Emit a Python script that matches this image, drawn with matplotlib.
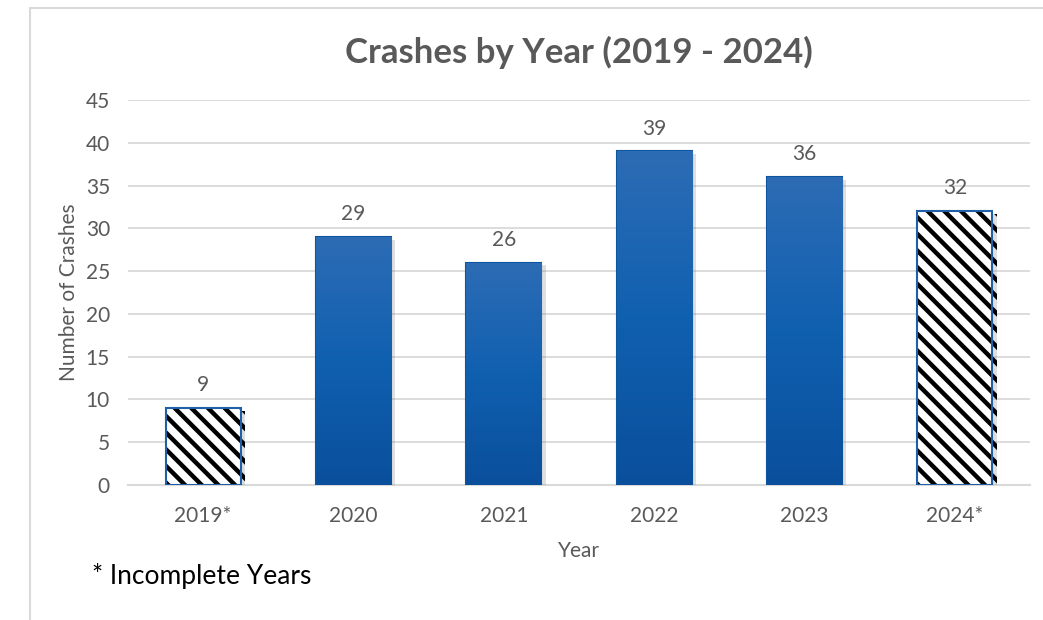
import numpy as np
import matplotlib
matplotlib.use("Agg")
import matplotlib.pyplot as plt
from matplotlib.colors import LinearSegmentedColormap
import matplotlib.patheffects as pe

years = ["2019*", "2020", "2021", "2022", "2023", "2024*"]
crashes = [9, 29, 26, 39, 36, 32]
incomplete = [True, False, False, False, False, True]

plt.rcParams['font.family'] = ['Lato', 'DejaVu Sans']
plt.rcParams['hatch.linewidth'] = 3.2

fig = plt.figure(figsize=(10.43, 6.2), dpi=100)
ax = fig.add_axes([0.1227, 0.2177, 0.8648, 0.621])

# outer border (light gray)
fig.patches.append(plt.Rectangle((30/1043, -0.01), 1.05, 1 - 8/620 + 0.01,
                                 transform=fig.transFigure, fill=False,
                                 edgecolor='#d9d9d9', linewidth=1.5))

x = np.arange(len(years))
shadow = [pe.SimplePatchShadow(offset=(3, -2), alpha=0.25, shadow_rgbFace='gray'), pe.Normal()]
bars = ax.bar(x, crashes, width=0.5, zorder=3)
cmap = LinearSegmentedColormap.from_list('g', ['#0a4f9c', '#1060b0', '#2d6cb5'])
grad = np.linspace(0, 1, 256).reshape(-1, 1)
for b, inc in zip(bars, incomplete):
    b.set_path_effects(shadow)
    x0, y0 = b.get_x(), b.get_y()
    w, h = b.get_width(), b.get_height()
    if inc:
        b.set_facecolor('white')
        b.set_hatch('\\\\')
        b.set_edgecolor('black')
        b.set_linewidth(0)
        ax.add_patch(plt.Rectangle((x0, y0), w, h, fill=False,
                                   edgecolor='#1f5fa8', linewidth=1.5, zorder=4))
    else:
        b.set_facecolor('#1560b0')
        b.set_edgecolor('#0d55a0')
        b.set_linewidth(1.5)
        im = ax.imshow(grad, cmap=cmap, aspect='auto', origin='lower',
                       extent=[x0, x0 + w, y0, y0 + h], zorder=3.5)
        im.set_clip_path(b)

for xi, v in zip(x, crashes):
    ax.text(xi, v + 1.5, str(v), ha='center', va='bottom', fontsize=15, color='#595959')

ax.set_xlim(-0.5, len(years) - 0.5)
ax.set_ylim(0, 45)
ax.set_yticks(np.arange(0, 46, 5))
ax.set_xticks(x)
ax.set_xticklabels(years)
ax.tick_params(axis='both', length=0, labelsize=15, labelcolor='#595959')
ax.tick_params(axis='x', pad=15)
ax.tick_params(axis='y', pad=13)
ax.grid(axis='y', color='#d9d9d9', linewidth=1.3, zorder=0)
ax.set_axisbelow(True)
for s in ['top', 'right', 'left']:
    ax.spines[s].set_visible(False)
ax.spines['bottom'].set_color('#d9d9d9')
ax.spines['bottom'].set_linewidth(1.5)

ax.set_title("Crashes by Year (2019 - 2024)", fontsize=25, fontweight='bold',
             color='#595959', pad=27)
ax.set_ylabel("Number of Crashes", fontsize=15, color='#595959', labelpad=5)
ax.set_xlabel("Year", fontsize=15, color='#595959', labelpad=11)
fig.text(92/1043, 1 - 576/620, "* Incomplete Years", fontsize=19, color='black',
         ha='left', va='center')

fig.savefig("out.png", dpi=100)
